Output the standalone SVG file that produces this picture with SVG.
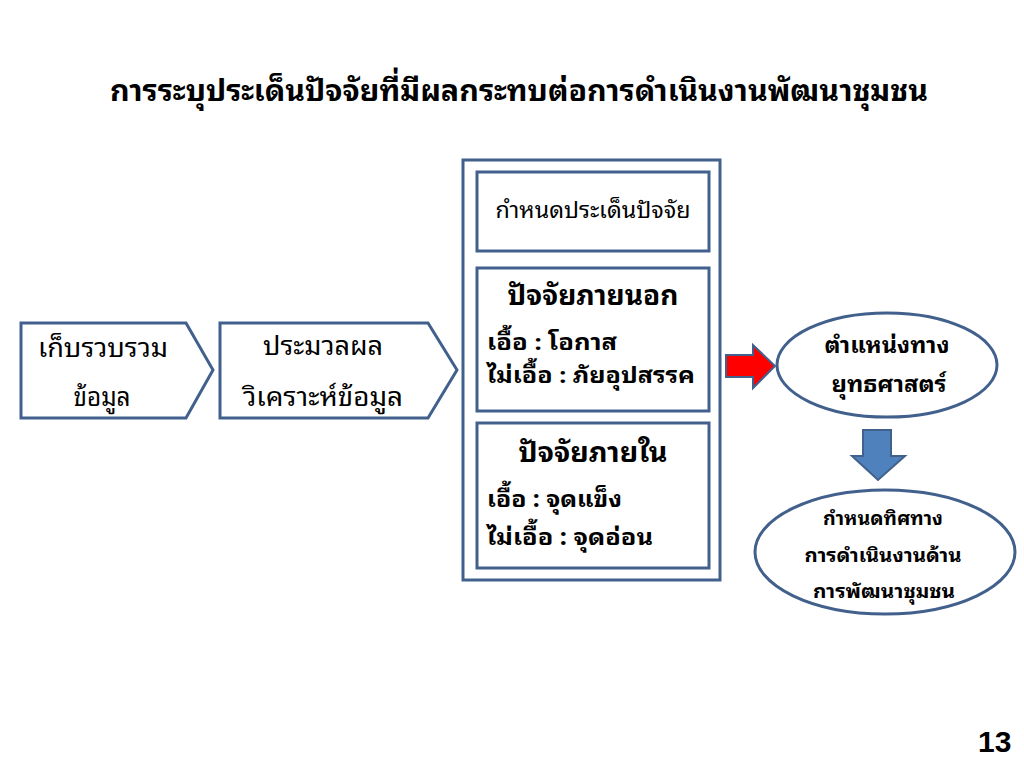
<svg xmlns="http://www.w3.org/2000/svg" width="1024" height="768" viewBox="0 0 1024 768">
<style>
.t{font-family:"Noto Sans Thai Looped","Noto Sans Thai","Noto Sans","DejaVu Sans",sans-serif;fill:#000}
.b{font-weight:bold}
.shape{fill:#fff;stroke:#41608C;stroke-width:3}
.c{text-anchor:middle}
</style>
<rect width="1024" height="768" fill="#fff"/>
<text class="t b c" x="519" y="101" font-size="30" textLength="818" lengthAdjust="spacingAndGlyphs">การระบุประเด็นปัจจัยที่มีผลกระทบต่อการดำเนินงานพัฒนาชุมชน</text>
<g id="collect">
<polygon class="shape" points="21,323 186,323 213,370 186,418 21,418"/>
<text class="t c" x="103" y="357" font-size="26" textLength="130" lengthAdjust="spacingAndGlyphs">เก็บรวบรวม</text>
<text class="t c" x="102" y="406" font-size="26" textLength="57" lengthAdjust="spacingAndGlyphs">ข้อมูล</text>
</g>
<g id="process">
<polygon class="shape" points="220,323 428,323 457,370 428,418 220,418"/>
<text class="t c" x="323" y="355" font-size="26" textLength="120" lengthAdjust="spacingAndGlyphs">ประมวลผล</text>
<text class="t c" x="323" y="406" font-size="26" textLength="160" lengthAdjust="spacingAndGlyphs">วิเคราะห์ข้อมูล</text>
</g>
<g id="factors">
<rect class="shape" x="463" y="160" width="257" height="420"/>
<g id="define">
<rect class="shape" x="477" y="172" width="232" height="79"/>
<text class="t c" x="593" y="218" font-size="22" textLength="195" lengthAdjust="spacingAndGlyphs">กำหนดประเด็นปัจจัย</text>
</g>
<g id="external">
<rect class="shape" x="477" y="268" width="232" height="143"/>
<text class="t b c" x="593" y="305" font-size="28" textLength="171" lengthAdjust="spacingAndGlyphs">ปัจจัยภายนอก</text>
<text class="t b" x="487" y="350" font-size="22" textLength="130" lengthAdjust="spacingAndGlyphs">เอื้อ : โอกาส</text>
<text class="t b" x="487" y="383" font-size="22" textLength="208" lengthAdjust="spacingAndGlyphs">ไม่เอื้อ : ภัยอุปสรรค</text>
</g>
<g id="internal">
<rect class="shape" x="477" y="423" width="232" height="145"/>
<text class="t b c" x="593" y="462" font-size="28" textLength="149" lengthAdjust="spacingAndGlyphs">ปัจจัยภายใน</text>
<text class="t b" x="487" y="507" font-size="23" textLength="135" lengthAdjust="spacingAndGlyphs">เอื้อ : จุดแข็ง</text>
<text class="t b" x="487" y="545" font-size="23" textLength="166" lengthAdjust="spacingAndGlyphs">ไม่เอื้อ : จุดอ่อน</text>
</g>
</g>
<g id="position">
<ellipse class="shape" cx="887" cy="365" rx="110" ry="52"/>
<text class="t b c" x="887" y="353" font-size="22" textLength="125" lengthAdjust="spacingAndGlyphs">ตำแหน่งทาง</text>
<text class="t b c" x="889" y="392" font-size="22" textLength="115" lengthAdjust="spacingAndGlyphs">ยุทธศาสตร์</text>
</g>
<g id="direction">
<ellipse class="shape" cx="885" cy="552" rx="130" ry="62"/>
<text class="t b c" x="883" y="525" font-size="19" textLength="120" lengthAdjust="spacingAndGlyphs">กำหนดทิศทาง</text>
<text class="t b c" x="883" y="562" font-size="19" textLength="157" lengthAdjust="spacingAndGlyphs">การดำเนินงานด้าน</text>
<text class="t b c" x="884" y="598" font-size="19" textLength="142" lengthAdjust="spacingAndGlyphs">การพัฒนาชุมชน</text>
</g>
<g id="connectors">
<polygon points="726,355 753,355 753,345 775,366 753,388 753,377 726,377" fill="#FF0000" stroke="#41608C" stroke-width="2"/>
<polygon points="863,430 891,430 891,456 905,456 878,480 852,456 863,456" fill="#4F81BD" stroke="#41608C" stroke-width="2"/>
</g>
<text x="978" y="752" font-size="30" font-weight="bold" font-family="Liberation Sans,Arial,sans-serif">13</text>
</svg>
